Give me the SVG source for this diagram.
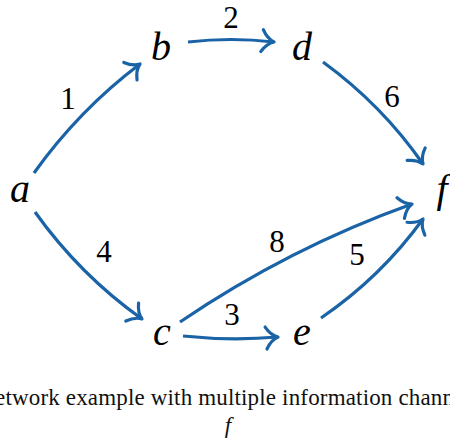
<svg xmlns="http://www.w3.org/2000/svg" width="450" height="442" viewBox="0 0 450 442">
<style>
.n{font-family:"Liberation Serif",serif;font-style:italic;font-size:40px;fill:#000;text-anchor:middle}
.l{font-family:"Liberation Serif",serif;font-size:31px;fill:#000;text-anchor:middle}
.e{fill:none;stroke:#1a63a6;stroke-width:3.2;marker-end:url(#ah)}
.cap{font-family:"Liberation Serif",serif;font-size:23px;fill:#111}
</style>
<defs>
<marker id="ah" markerUnits="userSpaceOnUse" orient="auto" viewBox="-13 -12 15 24" refX="0" refY="0" markerWidth="15" markerHeight="24" overflow="visible">
<path d="M -12 -11 C -8 -4 -3 -1 0 0 C -3 1 -8 4 -12 11" fill="none" stroke="#1a63a6" stroke-width="3.2" stroke-linecap="round" stroke-linejoin="round"/>
</marker>
</defs>
<g id="connectors">
<path class="e" d="M 34 173 Q 79 110 140 64"/>
<path class="e" d="M 188 42 Q 231 37 274 42"/>
<path class="e" d="M 323 62 Q 382 105 423 164"/>
<path class="e" d="M 35 212 Q 80 275 142 319"/>
<path class="e" d="M 183 336 Q 231 341 278 337"/>
<path class="e" d="M 180 322 Q 289 248 412 204"/>
<path class="e" d="M 321 318 Q 381 277 423 219"/>
<text class="l" x="68" y="109">1</text>
<text class="l" x="231" y="28">2</text>
<text class="l" x="392" y="107">6</text>
<text class="l" x="104" y="262">4</text>
<text class="l" x="277" y="252">8</text>
<text class="l" x="357" y="265">5</text>
<text class="l" x="232" y="325">3</text>
</g>
<g id="node-a"><text class="n" x="20" y="202">a</text></g>
<g id="node-b"><text class="n" x="161" y="60">b</text></g>
<g id="node-d"><text class="n" x="302" y="60">d</text></g>
<g id="node-f"><text class="n" x="442" y="202">f</text></g>
<g id="node-c"><text class="n" x="162" y="345">c</text></g>
<g id="node-e"><text class="n" x="302" y="345">e</text></g>
<text class="cap" x="-5" y="405" textLength="459" lengthAdjust="spacing">etwork example with multiple information chann</text>
<text class="cap" x="228" y="433" font-style="italic" text-anchor="middle">f</text>
</svg>
